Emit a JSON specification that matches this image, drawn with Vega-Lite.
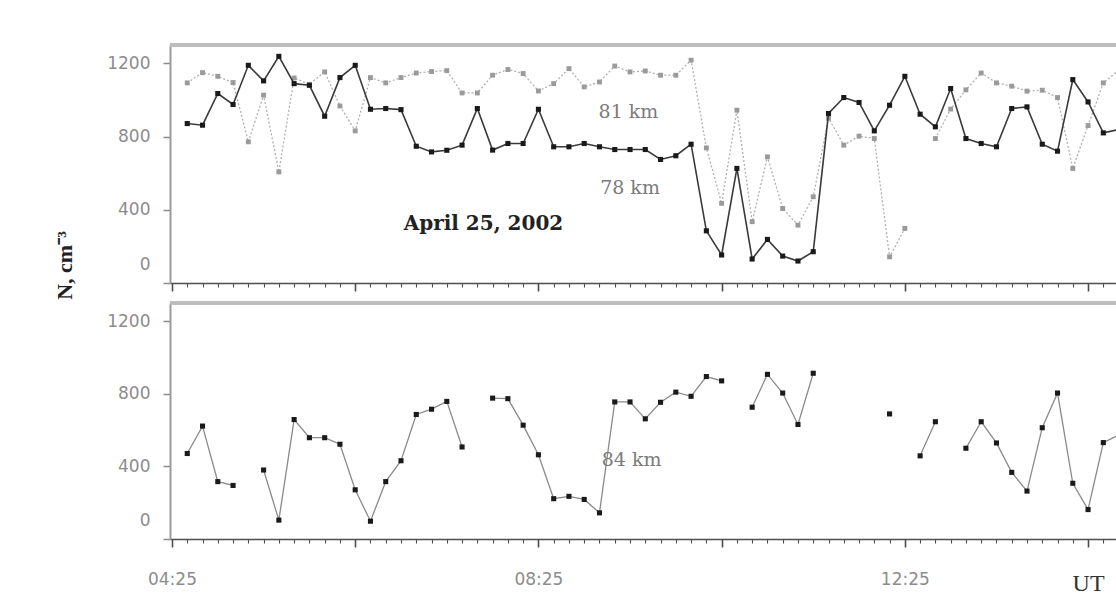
{
  "$schema": "https://vega.github.io/schema/vega-lite/v6.json",
  "background": "white",
  "padding": {"left": 53, "top": 43, "right": 0, "bottom": 0},
  "bounds": "flush",
  "spacing": 20,
  "config": {"view": {"stroke": null}, "axis": {"grid": false}},
  "datasets": {
    "obs": [
      {"minute":275,"N78":871,"N81":1093,"N84":471},
      {"minute":285,"N78":862,"N81":1149,"N84":622},
      {"minute":295,"N78":1035,"N81":1129,"N84":316},
      {"minute":305,"N78":975,"N81":1095,"N84":295},
      {"minute":315,"N78":1189,"N81":771,"N84":null},
      {"minute":325,"N78":1104,"N81":1026,"N84":380},
      {"minute":335,"N78":1238,"N81":607,"N84":104},
      {"minute":345,"N78":1089,"N81":1120,"N84":658},
      {"minute":355,"N78":1080,"N81":1085,"N84":558},
      {"minute":365,"N78":911,"N81":1153,"N84":558},
      {"minute":375,"N78":1122,"N81":967,"N84":522},
      {"minute":385,"N78":1189,"N81":831,"N84":271},
      {"minute":395,"N78":949,"N81":1122,"N84":98},
      {"minute":405,"N78":953,"N81":1093,"N84":316},
      {"minute":415,"N78":947,"N81":1122,"N84":431},
      {"minute":425,"N78":747,"N81":1147,"N84":686},
      {"minute":435,"N78":716,"N81":1155,"N84":715},
      {"minute":445,"N78":725,"N81":1160,"N84":758},
      {"minute":455,"N78":753,"N81":1038,"N84":507},
      {"minute":465,"N78":953,"N81":1038,"N84":null},
      {"minute":475,"N78":726,"N81":1135,"N84":776},
      {"minute":485,"N78":762,"N81":1166,"N84":773},
      {"minute":495,"N78":762,"N81":1144,"N84":627},
      {"minute":505,"N78":949,"N81":1049,"N84":464},
      {"minute":515,"N78":744,"N81":1089,"N84":222},
      {"minute":525,"N78":744,"N81":1171,"N84":235},
      {"minute":535,"N78":762,"N81":1071,"N84":218},
      {"minute":545,"N78":744,"N81":1098,"N84":144},
      {"minute":555,"N78":729,"N81":1185,"N84":755},
      {"minute":565,"N78":729,"N81":1153,"N84":755},
      {"minute":575,"N78":729,"N81":1158,"N84":662},
      {"minute":585,"N78":675,"N81":1135,"N84":753},
      {"minute":595,"N78":695,"N81":1135,"N84":809},
      {"minute":605,"N78":758,"N81":1217,"N84":786},
      {"minute":615,"N78":285,"N81":738,"N84":895},
      {"minute":625,"N78":153,"N81":435,"N84":871},
      {"minute":635,"N78":626,"N81":944,"N84":null},
      {"minute":645,"N78":131,"N81":335,"N84":726},
      {"minute":655,"N78":238,"N81":689,"N84":907},
      {"minute":665,"N78":147,"N81":407,"N84":804},
      {"minute":675,"N78":120,"N81":316,"N84":631},
      {"minute":685,"N78":171,"N81":471,"N84":913},
      {"minute":695,"N78":926,"N81":900,"N84":null},
      {"minute":705,"N78":1013,"N81":753,"N84":null},
      {"minute":715,"N78":986,"N81":802,"N84":null},
      {"minute":725,"N78":831,"N81":789,"N84":null},
      {"minute":735,"N78":971,"N81":143,"N84":689},
      {"minute":745,"N78":1129,"N81":298,"N84":null},
      {"minute":755,"N78":922,"N81":null,"N84":458},
      {"minute":765,"N78":853,"N81":789,"N84":646},
      {"minute":775,"N78":1062,"N81":950,"N84":null},
      {"minute":785,"N78":789,"N81":1055,"N84":500},
      {"minute":795,"N78":762,"N81":1147,"N84":646},
      {"minute":805,"N78":744,"N81":1093,"N84":529},
      {"minute":815,"N78":953,"N81":1075,"N84":367},
      {"minute":825,"N78":962,"N81":1048,"N84":264},
      {"minute":835,"N78":758,"N81":1053,"N84":613},
      {"minute":845,"N78":720,"N81":1013,"N84":804},
      {"minute":855,"N78":1111,"N81":626,"N84":307},
      {"minute":865,"N78":989,"N81":860,"N84":162},
      {"minute":875,"N78":820,"N81":1093,"N84":531},
      {"minute":885,"N78":838,"N81":1162,"N84":573}
    ]
  },
  "vconcat": [
    {
      "width": 946,
      "height": 238,
      "layer": [
        {
          "data": {"name": "obs"},
          "mark": {"type": "rule", "color": "#bdbdbd", "strokeWidth": 3},
          "encoding": {
            "y": {"datum": 1300, "type": "quantitative",
              "scale": {"domain": [0, 1300], "nice": false},
              "axis": {
                "values": [0, 400, 800, 1200],
                "format": "d",
                "title": "N, cm⁻³",
                "titleFont": "Liberation Serif", "titleFontSize": 22, "titleFontWeight": "bold", "titleColor": "#222222",
                "titleX": -106, "titleY": 220, "titleAngle": 270, "titleAlign": "center", "titleBaseline": "middle",
                "labelFont": "DejaVu Sans", "labelFontSize": 17, "labelColor": "#8c8c8c", "labelPadding": 13,
                "labelOffset": {"condition": {"test": "datum.value == 0", "value": -19}, "value": 0},
                "tickSize": 7, "tickColor": "#8a8a8a", "tickWidth": 1.5,
                "domainColor": "#9a9a9a", "domainWidth": 2
              }
            }
          }
        },
        {
          "data": {"name": "obs"},
          "mark": {"type": "line", "stroke": "#b0b0b0", "strokeWidth": 1.3, "strokeDash": [2, 2], "clip": true},
          "encoding": {
            "x": {"field": "minute", "type": "quantitative",
              "scale": {"domain": [263.7, 883.3], "nice": false, "zero": false},
              "axis": {
                "values": [265,275,285,295,305,315,325,335,345,355,365,375,385,395,405,415,425,435,445,455,465,475,485,495,505,515,525,535,545,555,565,575,585,595,605,615,625,635,645,655,665,675,685,695,705,715,725,735,745,755,765,775,785,795,805,815,825,835,845,855,865,875],
                "tickCount": 200,
                "labels": false, "title": null,
                "tickSize": {"condition": {"test": "datum.value % 120 == 25", "value": 8}, "value": 4},
                "tickColor": "#4d4d4d",
                "tickWidth": {"condition": {"test": "datum.value % 120 == 25", "value": 1.6}, "value": 1.1},
                "domainColor": "#4d4d4d", "domainWidth": 1.5
              }
            },
            "y": {"field": "N81", "type": "quantitative", "scale": {"domain": [0, 1300], "nice": false}}
          }
        },
        {
          "data": {"name": "obs"},
          "mark": {"type": "point", "shape": "square", "filled": true, "size": 24, "color": "#9a9a9a", "opacity": 1, "clip": true},
          "encoding": {
            "x": {"field": "minute", "type": "quantitative", "scale": {"domain": [263.7, 883.3], "nice": false, "zero": false}},
            "y": {"field": "N81", "type": "quantitative", "scale": {"domain": [0, 1300], "nice": false}}
          }
        },
        {
          "data": {"name": "obs"},
          "mark": {"type": "line", "stroke": "#3a3a3a", "strokeWidth": 1.6, "clip": true},
          "encoding": {
            "x": {"field": "minute", "type": "quantitative", "scale": {"domain": [263.7, 883.3], "nice": false, "zero": false}},
            "y": {"field": "N78", "type": "quantitative", "scale": {"domain": [0, 1300], "nice": false}}
          }
        },
        {
          "data": {"name": "obs"},
          "mark": {"type": "point", "shape": "square", "filled": true, "size": 26, "color": "#1a1a1a", "opacity": 1, "clip": true},
          "encoding": {
            "x": {"field": "minute", "type": "quantitative", "scale": {"domain": [263.7, 883.3], "nice": false, "zero": false}},
            "y": {"field": "N78", "type": "quantitative", "scale": {"domain": [0, 1300], "nice": false}}
          }
        },
        {
          "data": {"values": [
            {"minute": 564, "N": 934, "label": "81 km"},
            {"minute": 565, "N": 519, "label": "78 km"}
          ]},
          "mark": {"type": "text", "font": "DejaVu Serif", "fontSize": 19, "color": "#7a7a7a"},
          "encoding": {
            "x": {"field": "minute", "type": "quantitative", "scale": {"domain": [263.7, 883.3], "nice": false, "zero": false}},
            "y": {"field": "N", "type": "quantitative", "scale": {"domain": [0, 1300], "nice": false}},
            "text": {"field": "label"}
          }
        },
        {
          "data": {"values": [
            {"minute": 469, "N": 322, "label": "April 25, 2002"}
          ]},
          "mark": {"type": "text", "font": "DejaVu Serif", "fontWeight": "bold", "fontSize": 20, "color": "#222222"},
          "encoding": {
            "x": {"field": "minute", "type": "quantitative", "scale": {"domain": [263.7, 883.3], "nice": false, "zero": false}},
            "y": {"field": "N", "type": "quantitative", "scale": {"domain": [0, 1300], "nice": false}},
            "text": {"field": "label"}
          }
        }
      ]
    },
    {
      "width": 946,
      "height": 236,
      "layer": [
        {
          "data": {"name": "obs"},
          "mark": {"type": "rule", "color": "#bdbdbd", "strokeWidth": 3},
          "encoding": {
            "y": {"datum": 1300, "type": "quantitative",
              "scale": {"domain": [0, 1300], "nice": false},
              "axis": {
                "values": [0, 400, 800, 1200],
                "format": "d",
                "title": null,
                "labelFont": "DejaVu Sans", "labelFontSize": 17, "labelColor": "#8c8c8c", "labelPadding": 13,
                "labelOffset": {"condition": {"test": "datum.value == 0", "value": -19}, "value": 0},
                "tickSize": 7, "tickColor": "#8a8a8a", "tickWidth": 1.5,
                "domainColor": "#9a9a9a", "domainWidth": 2
              }
            }
          }
        },
        {
          "data": {"name": "obs"},
          "mark": {"type": "line", "stroke": "#8a8a8a", "strokeWidth": 1.3, "clip": true},
          "encoding": {
            "x": {"field": "minute", "type": "quantitative",
              "scale": {"domain": [263.7, 883.3], "nice": false, "zero": false},
              "axis": {
                "values": [265,275,285,295,305,315,325,335,345,355,365,375,385,395,405,415,425,435,445,455,465,475,485,495,505,515,525,535,545,555,565,575,585,595,605,615,625,635,645,655,665,675,685,695,705,715,725,735,745,755,765,775,785,795,805,815,825,835,845,855,865,875],
                "tickCount": 200,
                "title": null,
                "labelExpr": "datum.value == 265 ? '04:25' : datum.value == 505 ? '08:25' : datum.value == 745 ? '12:25' : datum.value == 865 ? 'UT' : ''",
                "labelOverlap": false, "labelFlush": false,
                "labelFont": {"condition": {"test": "datum.value == 865", "value": "Liberation Serif"}, "value": "DejaVu Sans"},
                "labelFontSize": {"condition": {"test": "datum.value == 865", "value": 24}, "value": 17},
                "labelColor": {"condition": {"test": "datum.value == 865", "value": "#333333"}, "value": "#8c8c8c"},
                "labelPadding": 24,
                "tickSize": {"condition": {"test": "datum.value % 120 == 25", "value": 8}, "value": 4},
                "tickColor": "#4d4d4d",
                "tickWidth": {"condition": {"test": "datum.value % 120 == 25", "value": 1.6}, "value": 1.1},
                "domainColor": "#4d4d4d", "domainWidth": 1.5
              }
            },
            "y": {"field": "N84", "type": "quantitative", "scale": {"domain": [0, 1300], "nice": false}}
          }
        },
        {
          "data": {"name": "obs"},
          "mark": {"type": "point", "shape": "square", "filled": true, "size": 26, "color": "#1a1a1a", "opacity": 1, "clip": true},
          "encoding": {
            "x": {"field": "minute", "type": "quantitative", "scale": {"domain": [263.7, 883.3], "nice": false, "zero": false}},
            "y": {"field": "N84", "type": "quantitative", "scale": {"domain": [0, 1300], "nice": false}}
          }
        },
        {
          "data": {"values": [
            {"minute": 566, "N": 435, "label": "84 km"}
          ]},
          "mark": {"type": "text", "font": "DejaVu Serif", "fontSize": 19, "color": "#7a7a7a"},
          "encoding": {
            "x": {"field": "minute", "type": "quantitative", "scale": {"domain": [263.7, 883.3], "nice": false, "zero": false}},
            "y": {"field": "N", "type": "quantitative", "scale": {"domain": [0, 1300], "nice": false}},
            "text": {"field": "label"}
          }
        }
      ]
    }
  ]
}
